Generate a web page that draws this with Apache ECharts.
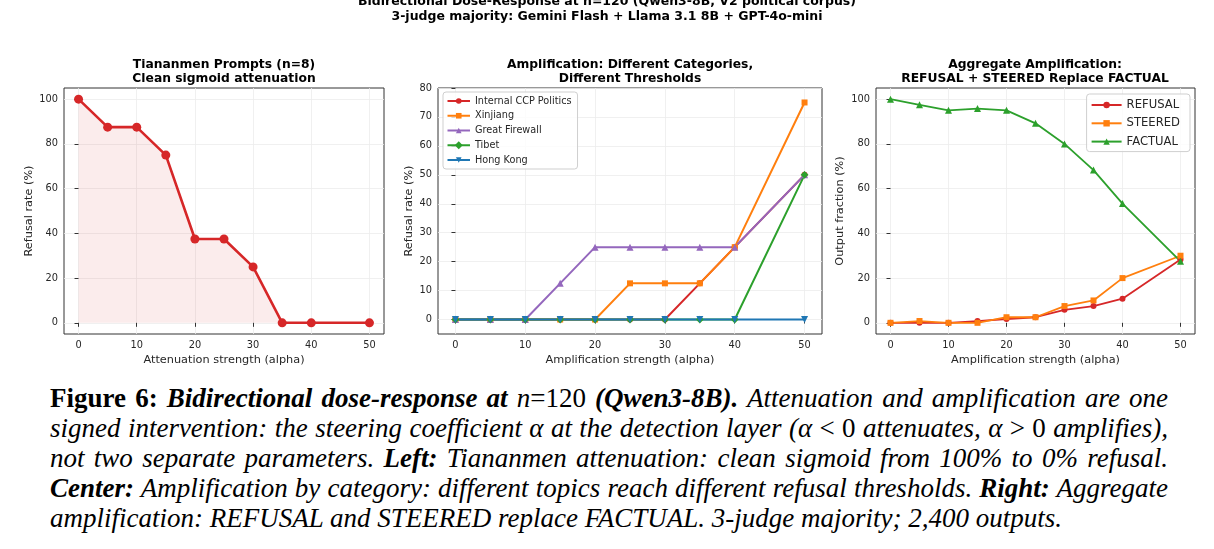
<!DOCTYPE html>
<html>
<head>
<meta charset="utf-8">
<script src="https://cdn.jsdelivr.net/npm/echarts@6/dist/echarts.min.js"></script>
<style>
  body { margin: 0; background: #fff; width: 1214px; height: 549px; overflow: hidden; position: relative; }
  #chart { position: absolute; left: 0; top: 0; width: 1214px; height: 372px; }
  #caption { position: absolute; left: 50px; top: 383px; width: 1118px; font-family: 'Liberation Serif', serif; font-size: 27px; line-height: 30px; font-style: italic; color: #000; }
  #caption div { text-align: justify; text-align-last: justify; white-space: nowrap; }
  #caption div.last { text-align-last: left; }
  #caption .b { font-weight: bold; }
  #caption .up { font-style: normal; }
</style>
</head>
<body>
<div id="chart"></div>
<div id="caption">
  <div><span class="b up">Figure 6:</span> <span class="b">Bidirectional dose-response at</span> <span class="up"><i>n</i>=120</span> <span class="b">(Qwen3-8B).</span> Attenuation and amplification are one</div>
  <div>signed intervention: the steering coefficient α at the detection layer (α <span class="up">&lt; 0</span> attenuates, α <span class="up">&gt; 0</span> amplifies),</div>
  <div>not two separate parameters. <span class="b">Left:</span> Tiananmen attenuation: clean sigmoid from 100% to 0% refusal.</div>
  <div><span class="b">Center:</span> Amplification by category: different topics reach different refusal thresholds. <span class="b">Right:</span> Aggregate</div>
  <div class="last">amplification: REFUSAL and STEERED replace FACTUAL. 3-judge majority; 2,400 outputs.</div>
</div>
<script>
// alpha steps
const alphaAtt = [0, 5, 10, 15, 20, 25, 30, 35, 40, 50]
const alphaAmp = [0, 5, 10, 15, 20, 25, 30, 35, 40, 50]

// left: Tiananmen attenuation
const tiananmen = [100, 87.5, 87.5, 75, 37.5, 37.5, 25, 0, 0, 0]

// center: per category amplification
const ccpPolitics = [0, 0, 0, 0, 0, 0, 0, 12.5, 25, 50]
const xinjiang = [0, 0, 0, 0, 0, 12.5, 12.5, 12.5, 25, 75]
const greatFirewall = [0, 0, 0, 12.5, 25, 25, 25, 25, 25, 50]
const tibet = [0, 0, 0, 0, 0, 0, 0, 0, 0, 50]
const hongKong = [0, 0, 0, 0, 0, 0, 0, 0, 0, 0]

// right: aggregate
const refusal = [0, 0, 0, 0.8, 1.7, 2.5, 5.8, 7.5, 10.8, 28.3]
const steered = [0, 0.8, 0, 0, 2.5, 2.5, 7.5, 10, 20, 30]
const factual = [100, 97.5, 95, 95.8, 95, 89.2, 80, 68.3, 53.3, 27.5]

// tick labels
const xTicks = [0, 10, 20, 30, 40, 50]
const pctTicks = [0, 20, 40, 60, 80, 100]
const ampTicks = [0, 10, 20, 30, 40, 50, 60, 70, 80]

const pair = (xs, ys) => xs.map((x, i) => [x, ys[i]])

const FONT = 'DejaVu Sans'
const INK = '#262626'
const RED = '#d62728', ORANGE = '#ff7f0e', PURPLE = '#9467bd', GREEN = '#2ca02c', BLUE = '#1f77b4'

function xAxis(idx, name, ticks) {
  return {
    type: 'value', gridIndex: idx, min: -2.5, max: 52.5,
    name: name, nameLocation: 'middle', nameGap: 21,
    nameTextStyle: { fontFamily: FONT, fontSize: 11.3, color: INK },
    axisLine: { show: false },
    axisTick: { show: true, length: 4, customValues: ticks, lineStyle: { color: '#333' } },
    axisLabel: { customValues: ticks, fontFamily: FONT, fontSize: 9.8, color: INK, margin: 6 },
    splitLine: { show: true, lineStyle: { color: '#ececec', width: 0.8 } }
  }
}
function yAxis(idx, name, min, max, ticks, gap) {
  return {
    type: 'value', gridIndex: idx, min: min, max: max,
    name: name, nameLocation: 'middle', nameGap: gap,
    nameTextStyle: { fontFamily: FONT, fontSize: 11.3, color: INK },
    axisLine: { show: false },
    axisTick: { show: true, length: 4, customValues: ticks, lineStyle: { color: '#333' } },
    axisLabel: { customValues: ticks, fontFamily: FONT, fontSize: 9.8, color: INK, margin: 6 },
    splitLine: { show: true, lineStyle: { color: '#ececec', width: 0.8 } }
  }
}
function line(name, idx, ys, color, symbol, size, width, extra) {
  return Object.assign({
    name: name, type: 'line', xAxisIndex: idx, yAxisIndex: idx,
    data: pair(idx === 0 ? alphaAtt : alphaAmp, ys),
    symbol: symbol, symbolSize: size, showAllSymbol: true,
    lineStyle: { color: color, width: width },
    itemStyle: { color: color },
    animation: false
  }, extra || {})
}
function panelTitle(text, cx) {
  return {
    text: text, left: cx, top: 58, textAlign: 'center', padding: 0,
    textStyle: { fontFamily: FONT, fontWeight: 'bold', fontSize: 12.3, lineHeight: 14, color: '#000' }
  }
}

const chart = echarts.init(document.getElementById('chart'), null, { renderer: 'canvas' })
chart.setOption({
  backgroundColor: '#fff',
  animation: false,
  title: [
    { text: 'Bidirectional Dose-Response at n=120 (Qwen3-8B, V2 political corpus)\n3-judge majority: Gemini Flash + Llama 3.1 8B + GPT-4o-mini',
      left: 607, top: -5.5, textAlign: 'center', padding: 0,
      textStyle: { fontFamily: FONT, fontWeight: 'bold', fontSize: 12.5, lineHeight: 15, color: '#000' } },
    panelTitle('Tiananmen Prompts (n=8)\nClean sigmoid attenuation', 224),
    panelTitle('Amplification: Different Categories,\nDifferent Thresholds', 630),
    panelTitle('Aggregate Amplification:\nREFUSAL + STEERED Replace FACTUAL', 1035)
  ],
  grid: [
    { left: 64, top: 88, width: 320, height: 246, show: true, borderColor: '#333', borderWidth: 1, backgroundColor: '#fff' },
    { left: 438, top: 88, width: 384, height: 246, show: true, borderColor: '#333', borderWidth: 1, backgroundColor: '#fff' },
    { left: 876, top: 88, width: 319, height: 246, show: true, borderColor: '#333', borderWidth: 1, backgroundColor: '#fff' }
  ],
  xAxis: [
    xAxis(0, 'Attenuation strength (alpha)', xTicks),
    xAxis(1, 'Amplification strength (alpha)', xTicks),
    xAxis(2, 'Amplification strength (alpha)', xTicks)
  ],
  yAxis: [
    yAxis(0, 'Refusal rate (%)', -5, 105, pctTicks, 29.5),
    yAxis(1, 'Refusal rate (%)', -5, 80, ampTicks, 23.5),
    yAxis(2, 'Output fraction (%)', -5, 105, pctTicks, 30)
  ],
  legend: [
    { data: ['Internal CCP Politics', 'Xinjiang', 'Great Firewall', 'Tibet', 'Hong Kong'],
      orient: 'vertical', left: 443, top: 92, itemGap: 2.75, itemWidth: 22.5, itemHeight: 7,
      padding: [3, 6, 3, 3.5], borderColor: '#cfcfcf', borderWidth: 1, borderRadius: 3,
      backgroundColor: 'rgba(255,255,255,0.8)',
      textStyle: { fontFamily: FONT, fontSize: 9.7, lineHeight: 12, color: INK } },
    { data: ['REFUSAL', 'STEERED', 'FACTUAL'],
      orient: 'vertical', right: 24, top: 94, itemGap: 4.3, itemWidth: 30, itemHeight: 8,
      padding: [4, 10, 3, 4], borderColor: '#cfcfcf', borderWidth: 1, borderRadius: 3,
      backgroundColor: 'rgba(255,255,255,0.8)',
      textStyle: { fontFamily: FONT, fontSize: 11.6, lineHeight: 14, color: INK } }
  ],
  series: [
    line('Tiananmen', 0, tiananmen, RED, 'circle', 9, 2.6, {
      areaStyle: { color: 'rgba(214,39,40,0.12)', origin: 'auto' }
    }),
    line('Internal CCP Politics', 1, ccpPolitics, RED, 'circle', 6, 2),
    line('Xinjiang', 1, xinjiang, ORANGE, 'rect', 6, 2),
    line('Great Firewall', 1, greatFirewall, PURPLE, 'triangle', 7, 2),
    line('Tibet', 1, tibet, GREEN, 'rect', 5.5, 2, { symbolRotate: 45 }),
    line('Hong Kong', 1, hongKong, BLUE, 'triangle', 7, 2, { symbolRotate: 180 }),
    line('REFUSAL', 2, refusal, RED, 'circle', 6, 1.8),
    line('STEERED', 2, steered, ORANGE, 'rect', 6, 1.8),
    line('FACTUAL', 2, factual, GREEN, 'triangle', 7, 1.8)
  ]
})
</script>
</body>
</html>
